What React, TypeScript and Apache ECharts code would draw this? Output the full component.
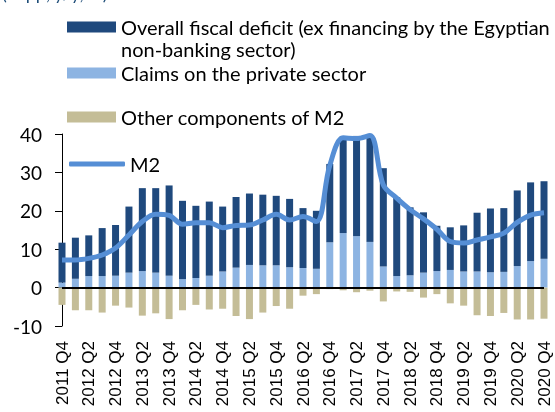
import React, { useEffect, useRef } from "react";
import * as echarts from "echarts";

const quarters = [
  "2011 Q4",
  "2012 Q1", "2012 Q2", "2012 Q3", "2012 Q4",
  "2013 Q1", "2013 Q2", "2013 Q3", "2013 Q4",
  "2014 Q1", "2014 Q2", "2014 Q3", "2014 Q4",
  "2015 Q1", "2015 Q2", "2015 Q3", "2015 Q4",
  "2016 Q1", "2016 Q2", "2016 Q3", "2016 Q4",
  "2017 Q1", "2017 Q2", "2017 Q3", "2017 Q4",
  "2018 Q1", "2018 Q2", "2018 Q3", "2018 Q4",
  "2019 Q1", "2019 Q2", "2019 Q3", "2019 Q4",
  "2020 Q1", "2020 Q2", "2020 Q3", "2020 Q4",
];

const fiscalDeficit = [
  10.4, 10.7, 10.6, 12.5, 13.2, 17.2, 21.6, 22.0, 23.5, 20.4, 18.8, 19.3, 16.9,
  18.4, 18.6, 18.4, 18.1, 17.8, 15.6, 15.1, 20.4, 25.2, 26.1, 27.6, 25.6, 20.5,
  17.7, 15.7, 11.8, 11.1, 12.0, 15.3, 16.6, 16.6, 19.7, 20.5, 20.2,
];

const privateClaims = [
  1.3, 2.3, 3.0, 3.0, 3.1, 3.9, 4.3, 3.9, 3.1, 2.2, 2.5, 3.1, 4.2, 5.2, 5.9, 5.8,
  5.8, 5.3, 5.1, 4.9, 11.8, 14.2, 13.4, 11.9, 5.5, 3.0, 3.2, 3.9, 4.3, 4.6, 4.2,
  4.2, 4.0, 4.1, 5.6, 6.9, 7.5,
];

const otherComponents = [
  -4.5, -5.9, -5.9, -6.5, -4.7, -5.2, -7.3, -6.7, -8.2, -5.9, -4.5, -5.7, -5.5,
  -7.4, -8.2, -6.5, -4.8, -5.5, -2.1, -1.7, -0.4, -0.7, -1.2, -0.8, -3.6, -1.0,
  -1.1, -2.6, -1.7, -4.1, -4.7, -7.2, -7.4, -6.6, -8.3, -8.3, -8.1,
];

const m2 = [
  7.2, 7.2, 7.6, 8.5, 10.3, 13.7, 17.2, 19.1, 18.8, 16.5, 16.9, 16.9, 15.6, 16.2,
  16.3, 17.6, 19.1, 17.6, 18.5, 17.2, 31.8, 39.0, 38.8, 39.6, 26.7, 23.3, 20.3,
  17.9, 15.2, 12.0, 11.6, 12.4, 13.2, 14.2, 17.0, 18.9, 19.5,
];

const yTicks = { min: -10, max: 40, interval: 10 };

const NAME_FISCAL =
  "Overall fiscal deficit (ex financing by the Egyptian non-banking sector)";
const NAME_FISCAL_L1 = "Overall fiscal deficit (ex financing by the Egyptian";
const NAME_FISCAL_L2 = "non-banking sector)";
const NAME_PRIVATE = "Claims on the private sector";
const NAME_OTHER = "Other components of M2";
const NAME_M2 = "M2";

const C_DARK = "#1F497D";
const C_LIGHT = "#8DB4E2";
const C_TAN = "#C4BD97";
const C_LINE = "#558ED5";

const LEGEND_FONT = "Lato";
const LEGEND_SIZE = 20;

export default function App() {
  const ref = useRef<HTMLDivElement>(null);

  useEffect(() => {
    if (!ref.current) return;
    const chart = echarts.init(ref.current, undefined, { renderer: "svg" });

    const legendBase = {
      orient: "vertical" as const,
      left: 67,
      padding: 0,
      itemWidth: 49,
      itemHeight: 11,
      selectedMode: false,
      icon: "rect",
      textStyle: {
        fontFamily: LEGEND_FONT,
        fontSize: LEGEND_SIZE,
        color: "#000",
        lineHeight: 20,
      },
    };

    chart.setOption({
      animation: false,
      grid: { left: 62, right: 11, top: 134, bottom: 86, containLabel: false },
      legend: [
        {
          ...legendBase,
          top: 17,
          data: [NAME_FISCAL],
          formatter: () => NAME_FISCAL_L1,
        },
        { ...legendBase, top: 63, data: [NAME_PRIVATE] },
        { ...legendBase, top: 107, data: [NAME_OTHER] },
        {
          ...legendBase,
          left: 69,
          top: 154,
          itemWidth: 56,
          itemHeight: 5,
          icon: "roundRect",
          data: [{ name: NAME_M2, itemStyle: { color: C_LINE } }],
        },
      ],
      graphic: [
        {
          type: "text",
          left: 121,
          top: 39,
          style: {
            text: NAME_FISCAL_L2,
            fontFamily: LEGEND_FONT,
            fontSize: LEGEND_SIZE,
            lineHeight: 20,
            fill: "#000",
          },
        },
        {
          type: "text",
          left: 2,
          top: -16,
          style: {
            text: "(in pp, y/y, %)",
            fontFamily: LEGEND_FONT,
            fontSize: 18,
            fill: "#1F4E79",
          },
        },
      ],
      xAxis: {
        type: "category",
        data: quarters,
        boundaryGap: false,
        axisLine: { show: false, onZero: false },
        axisTick: { show: false },
        axisLabel: {
          interval: 1,
          rotate: 90,
          margin: 15,
          fontFamily: "Liberation Sans",
          fontSize: 17,
          color: "#000",
        },
      },
      yAxis: {
        type: "value",
        min: yTicks.min,
        max: yTicks.max,
        interval: yTicks.interval,
        splitLine: { show: false },
        axisLine: { show: true, lineStyle: { color: "#000", width: 1 } },
        axisTick: { show: true, length: 7, lineStyle: { color: "#000" } },
        axisLabel: {
          margin: 20,
          fontFamily: "Lato",
          fontSize: 19,
          color: "#000",
        },
      },
      series: [
        {
          name: NAME_PRIVATE,
          type: "bar",
          stack: "s",
          barWidth: 7,
          clip: false,
          data: privateClaims,
          itemStyle: { color: C_LIGHT },
        },
        {
          name: NAME_FISCAL,
          type: "bar",
          stack: "s",
          barWidth: 7,
          clip: false,
          data: fiscalDeficit,
          itemStyle: { color: C_DARK },
        },
        {
          name: NAME_OTHER,
          type: "bar",
          stack: "s",
          barWidth: 7,
          clip: false,
          data: otherComponents,
          itemStyle: { color: C_TAN },
          markLine: {
            silent: true,
            symbol: "none",
            label: { show: false },
            lineStyle: { color: "#000", width: 2, type: "solid" },
            data: [{ yAxis: 0 }],
          },
        },
        {
          name: NAME_M2,
          type: "line",
          data: m2,
          smooth: 0.35,
          symbol: "none",
          clip: false,
          lineStyle: { color: C_LINE, width: 5 },
          itemStyle: { color: C_LINE },
          z: 5,
        },
      ],
    });

    return () => chart.dispose();
  }, []);

  return (
    <div
      ref={ref}
      style={{ position: "fixed", left: 0, top: 0, width: 555, height: 412 }}
    />
  );
}
